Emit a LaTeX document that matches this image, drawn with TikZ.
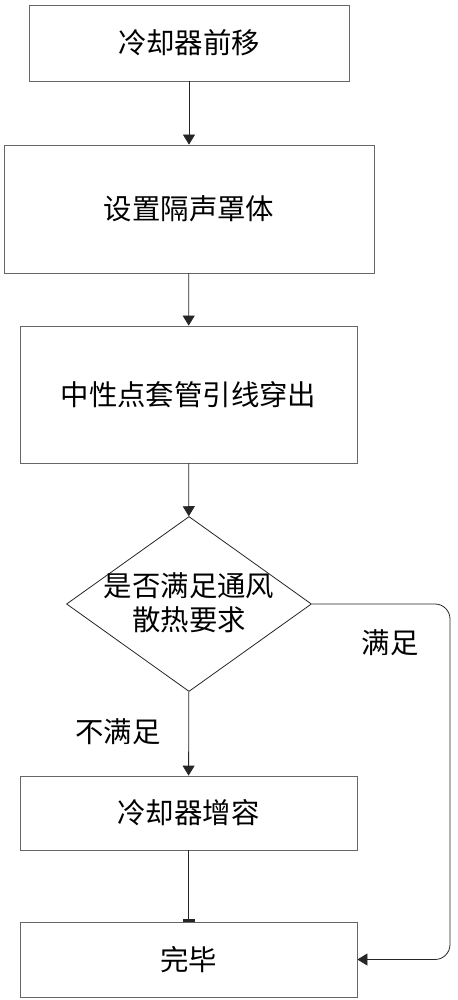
\documentclass[tikz,border=0pt]{standalone}
\usepackage{fontspec}
\setmainfont{Noto Sans CJK SC}
\usetikzlibrary{arrows.meta,shapes.geometric}
\tikzset{
  stepbox/.style={draw=black!60, rectangle, inner sep=0pt, font=\fontsize{14.2pt}{17pt}\selectfont},
  flow/.style={draw=black!85, -{Triangle[width=6pt,length=5pt]}},
}
\begin{document}
\begin{tikzpicture}[x=0.5pt, y=-0.5pt]
  \useasboundingbox (0,0) rectangle (457,1000);
  \node[stepbox, minimum width=160pt, minimum height=38pt] (move) at (189,43) {冷却器前移};
  \node[stepbox, minimum width=185pt, minimum height=64pt] (hood) at (189,209) {设置隔声罩体};
  \node[stepbox, minimum width=168.5pt, minimum height=68.5pt] (lead) at (188.5,394.5) {中性点套管引线穿出};
  \node[draw=black!85, diamond, minimum width=122.5pt, minimum height=87.5pt, inner sep=0pt] (judge) at (189,604) {};
  \node[align=center, font=\fontsize{14.2pt}{17pt}\selectfont] (judgetxt) at (189,603) {是否满足通风\\散热要求};
  \node[stepbox, minimum width=168.5pt, minimum height=37pt] (expand) at (188.5,813) {冷却器增容};
  \node[stepbox, minimum width=168.5pt, minimum height=37.5pt] (done) at (188.5,959.5) {完毕};
  \node[font=\fontsize{14.2pt}{17pt}\selectfont] (yes) at (390,643) {满足};
  \node[font=\fontsize{14.2pt}{17pt}\selectfont] (no) at (118,732) {不满足};
  \coordinate (turn) at (450,604);
  \draw [flow] (move) -- (hood);
  \draw [flow] (hood) -- (lead);
  \draw [flow] (lead) -- (judge);
  \draw [flow] (judge) -- (expand);
  \draw [draw=black!85, -{Rectangle[width=6pt,length=1.5pt]}] (expand) -- (done);
  \draw [flow, rounded corners=7.5pt] (judge.east) -- (turn) |- (done.east);
\end{tikzpicture}
\end{document}
